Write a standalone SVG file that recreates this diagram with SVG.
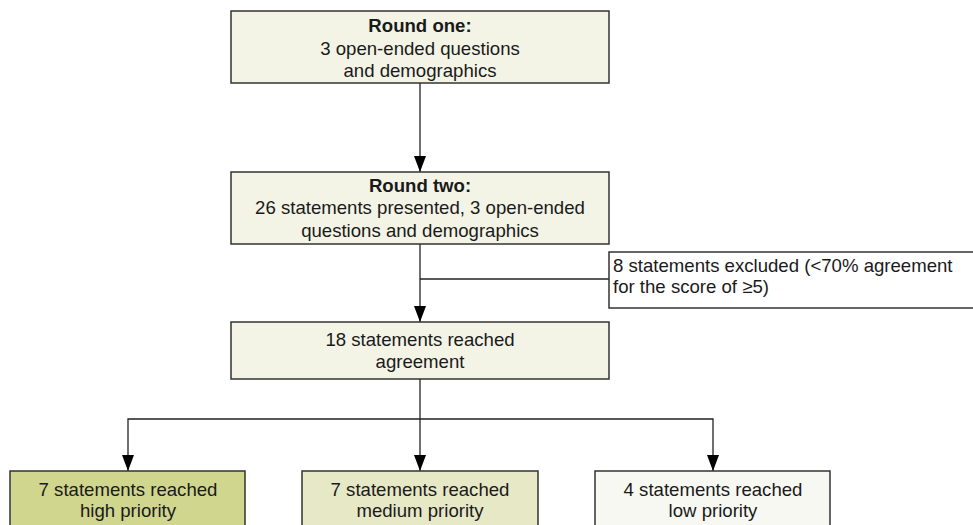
<svg xmlns="http://www.w3.org/2000/svg" width="973" height="525" viewBox="0 0 973 525">
<defs>
<marker id="arr" markerWidth="16" markerHeight="12" refX="16" refY="6" orient="auto" markerUnits="userSpaceOnUse" viewBox="0 0 16 12">
<path d="M0,0 L16,6 L0,12 Z" fill="#000"/>
</marker>
</defs>
<style>
.box{stroke:#333;stroke-width:1.5}
.t{font-family:"Liberation Sans",Arial,sans-serif;font-size:18.6px;fill:#1a1a1a;text-anchor:middle}
.b{font-weight:bold}
.c{fill:none;stroke:#222;stroke-width:1.3}
</style>
<rect width="973" height="525" fill="#fff"/>
<g id="connectors">
<line class="c" x1="420" y1="83" x2="420" y2="172" marker-end="url(#arr)"/>
<line class="c" x1="420" y1="244" x2="420" y2="322" marker-end="url(#arr)"/>
<line class="c" x1="420" y1="279" x2="609" y2="279"/>
<line class="c" x1="420" y1="379" x2="420" y2="471" marker-end="url(#arr)"/>
<polyline class="c" points="128,450 128,419 713,419 713,450"/>
<line class="c" x1="128" y1="450" x2="128" y2="471" marker-end="url(#arr)"/>
<line class="c" x1="713" y1="450" x2="713" y2="471" marker-end="url(#arr)"/>
</g>
<g id="round-one">
<rect class="box" x="231" y="11" width="378" height="72" fill="#f3f4e6"/>
<text class="t b" x="420" y="32">Round one:</text>
<text class="t" x="420" y="55">3 open-ended questions</text>
<text class="t" x="420" y="77">and demographics</text>
</g>
<g id="round-two">
<rect class="box" x="231" y="172" width="378" height="72" fill="#f3f4e6"/>
<text class="t b" x="420" y="192">Round two:</text>
<text class="t" x="420" y="214">26 statements presented, 3 open-ended</text>
<text class="t" x="420" y="237">questions and demographics</text>
</g>
<g id="excluded">
<rect class="box" x="609" y="252" width="372" height="56" fill="#fff"/>
<text class="t" x="613" y="272" style="text-anchor:start">8 statements excluded (&lt;70% agreement</text>
<text class="t" x="613" y="293" style="text-anchor:start">for the score of ≥5)</text>
</g>
<g id="agreement">
<rect class="box" x="231" y="322" width="378" height="57" fill="#f3f4e6"/>
<text class="t" x="420" y="346">18 statements reached</text>
<text class="t" x="420" y="368">agreement</text>
</g>
<g id="high">
<rect class="box" x="10" y="471" width="235" height="70" fill="#d0d68e"/>
<text class="t" x="128" y="496">7 statements reached</text>
<text class="t" x="128" y="517">high priority</text>
</g>
<g id="medium">
<rect class="box" x="302" y="471" width="236" height="70" fill="#e6e8c6"/>
<text class="t" x="420" y="496">7 statements reached</text>
<text class="t" x="420" y="517">medium priority</text>
</g>
<g id="low">
<rect class="box" x="595" y="471" width="235" height="70" fill="#f8f8f2"/>
<text class="t" x="713" y="496">4 statements reached</text>
<text class="t" x="713" y="517">low priority</text>
</g>
</svg>
